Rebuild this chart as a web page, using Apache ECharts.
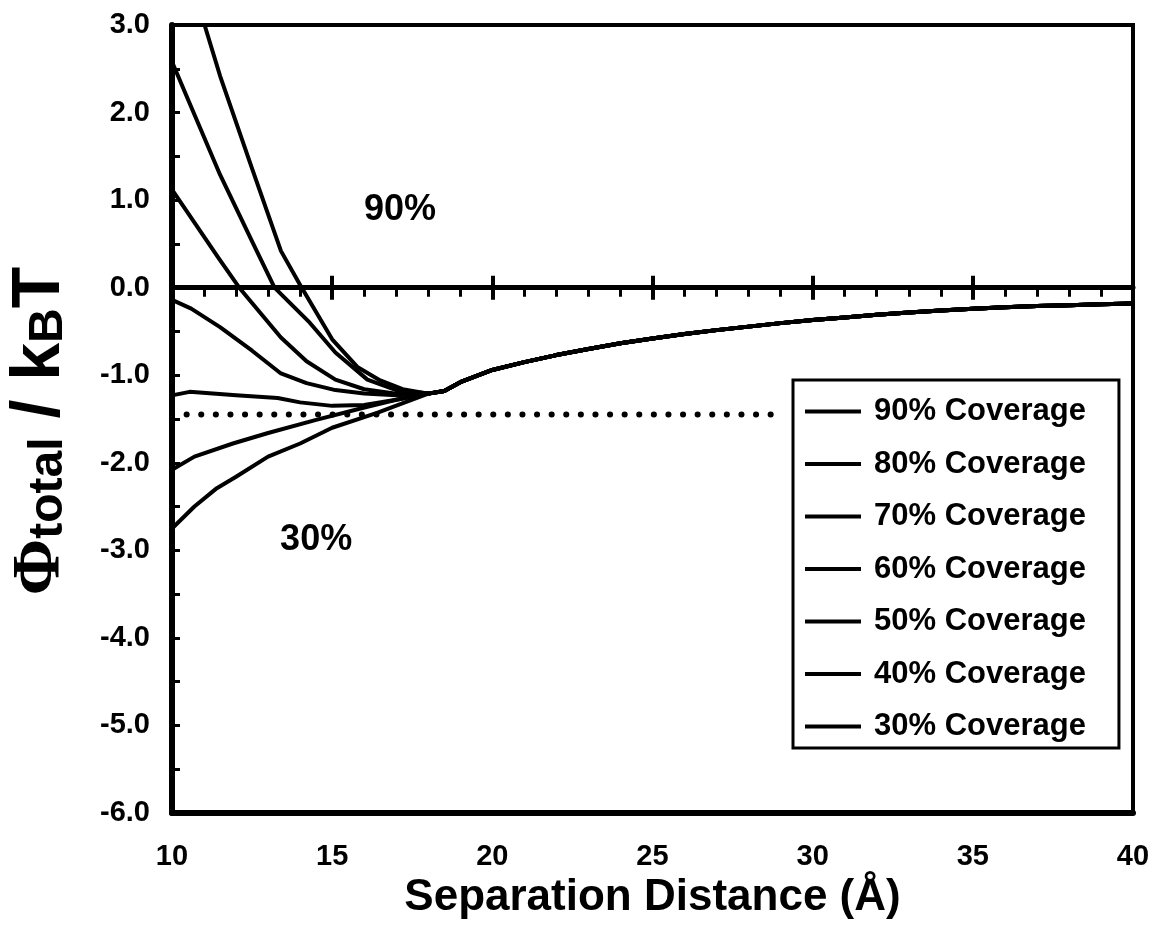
<!DOCTYPE html>
<html>
<head>
<meta charset="utf-8">
<script src="https://cdn.jsdelivr.net/npm/echarts@6/dist/echarts.min.js"></script>
<style>
  html, body { margin: 0; padding: 0; background: #fff; }
  #chart { width: 1155px; height: 937px; }
</style>
</head>
<body>
<div id="chart"></div>
<script>
// Total interaction potential vs separation distance for several surface coverages
const coverageLabels = ['90% Coverage', '80% Coverage', '70% Coverage', '60% Coverage',
                        '50% Coverage', '40% Coverage', '30% Coverage'];

// Near-field branches (separation in Å, potential in kBT), one per coverage
const x90 = [11.0, 11.5, 12.5, 13.4, 14.0, 15.0, 15.8, 16.5, 17.2];
const y90 = [3.02, 2.42, 1.36, 0.42, 0.03, -0.59, -0.91, -1.06, -1.16];
const x80 = [10.0, 10.5, 11.5, 12.5, 13.2, 14.3, 15.1, 16.1, 17.0];
const y80 = [2.58, 2.15, 1.29, 0.53, 0.0, -0.40, -0.74, -1.05, -1.17];
const x70 = [10.0, 10.5, 11.45, 12.1, 13.4, 14.2, 15.1, 16.0, 17.0];
const y70 = [1.12, 0.85, 0.34, 0.0, -0.57, -0.84, -1.05, -1.16, -1.21];
const x60 = [10.0, 10.6, 11.5, 12.5, 13.4, 14.2, 15.1, 16.0, 17.0];
const y60 = [-0.14, -0.24, -0.45, -0.72, -0.98, -1.09, -1.17, -1.21, -1.23];
const x50 = [10.0, 10.55, 12.0, 13.3, 14.0, 15.0, 16.0, 17.0];
const y50 = [-1.23, -1.19, -1.23, -1.26, -1.31, -1.35, -1.34, -1.28];
const x40 = [10.0, 10.7, 11.9, 13.0, 14.5, 16.1, 17.0];
const y40 = [-2.08, -1.93, -1.78, -1.66, -1.51, -1.36, -1.28];
const x30 = [10.0, 10.7, 11.4, 12.0, 13.0, 14.0, 15.0, 16.4];
const y30 = [-2.75, -2.50, -2.29, -2.16, -1.93, -1.78, -1.60, -1.43];

// Far-field branch shared by every coverage
const tailX = [18, 18.5, 19, 20, 21, 22, 23, 24, 25, 26, 27, 28, 29, 30,
               31, 32, 33, 34, 35, 36, 37, 38, 39, 40];
const tailY = [-1.21, -1.18, -1.08, -0.94, -0.85, -0.77, -0.70, -0.635, -0.58, -0.53, -0.485, -0.445, -0.405, -0.37,
               -0.34, -0.31, -0.285, -0.26, -0.24, -0.225, -0.21, -0.20, -0.19, -0.18];

// Reference level (dotted)
const refLevel = -1.45;
const refX = [10, 29];

// In-plot annotations, placed in data coordinates
const annotations = [
  { text: '90%', x: 17.12, y: 0.89 },
  { text: '30%', x: 14.5, y: -2.88 }
];

const xTicks = { min: 10, max: 40, interval: 5 };
const yTicks = { min: -6, max: 3, interval: 1 };

const FONT = '"Liberation Sans", Arial, Helvetica, sans-serif';
const heads = [[x90, y90], [x80, y80], [x70, y70], [x60, y60], [x50, y50], [x40, y40], [x30, y30]];

function buildCurve(xs, ys) {
  const pts = xs.map((x, i) => [x, ys[i]]);
  return pts.concat(tailX.map((x, i) => [x, tailY[i]]));
}

const chart = echarts.init(document.getElementById('chart'), null, { renderer: 'canvas' });

const curveSeries = coverageLabels.map((name, k) => ({
  name: name,
  type: 'line',
  data: buildCurve(heads[k][0], heads[k][1]),
  symbol: 'none',
  showSymbol: false,
  clip: true,
  z: 3,
  lineStyle: { color: '#000', width: 4, join: 'round' },
  itemStyle: { color: '#000' },
  emphasis: { disabled: true }
}));

const dottedSeries = {
  name: 'reference',
  type: 'line',
  data: refX.map(x => [x, refLevel]),
  symbol: 'none',
  z: 2,
  silent: true,
  lineStyle: { color: '#000', width: 6, type: [0.1, 14.5], cap: 'round' }
};

const zeroTick = { lineStyle: { color: '#000', width: 4 } };

chart.setOption({
  animation: false,
  backgroundColor: '#fff',
  grid: {
    left: 172, right: 22, top: 25, bottom: 124,
    show: true, borderColor: '#000', borderWidth: 4, backgroundColor: 'transparent'
  },
  legend: {
    data: coverageLabels,
    orient: 'vertical',
    left: 793, top: 380,
    padding: [16, 33, 6, 12],
    itemGap: 21.5,
    itemWidth: 56,
    itemHeight: 4,
    icon: 'rect',
    itemStyle: { color: '#000' },
    borderColor: '#000',
    borderWidth: 3,
    backgroundColor: '#fff',
    selectedMode: false,
    textStyle: { fontFamily: FONT, fontWeight: 'bold', fontSize: 31, color: '#000', lineHeight: 30,
                 padding: [0, 0, 0, 8] }
  },
  xAxis: [
    {
      type: 'value', min: xTicks.min, max: xTicks.max, interval: xTicks.interval,
      position: 'bottom',
      axisLine: { show: true, onZero: false, lineStyle: { color: '#000', width: 6 } },
      axisTick: { show: false },
      splitLine: { show: false },
      axisLabel: { fontFamily: FONT, fontWeight: 'bold', fontSize: 29, color: '#000', margin: 29 },
      name: 'Separation Distance (Å)',
      nameLocation: 'middle',
      nameGap: 57,
      nameTextStyle: { fontFamily: FONT, fontWeight: 'bold', fontSize: 44, color: '#000' }
    },
    {
      type: 'value', min: xTicks.min, max: xTicks.max, interval: xTicks.interval,
      position: 'bottom',
      axisLine: { show: true, onZero: true, onZeroAxisIndex: 0, lineStyle: { color: '#000', width: 5 } },
      axisTick: { show: true, length: 12, lineStyle: zeroTick.lineStyle },
      minorTick: { show: true, splitNumber: 5, length: 9, lineStyle: { color: '#000', width: 3 } },
      axisLabel: { show: false },
      splitLine: { show: false }
    },
    {
      type: 'value', min: xTicks.min, max: xTicks.max, interval: xTicks.interval,
      position: 'top',
      axisLine: { show: false, onZero: true, onZeroAxisIndex: 0 },
      axisTick: { show: true, length: 12, lineStyle: zeroTick.lineStyle },
      axisLabel: { show: false },
      splitLine: { show: false }
    }
  ],
  yAxis: {
    type: 'value', min: yTicks.min, max: yTicks.max, interval: yTicks.interval,
    position: 'left',
    axisLine: { show: true, onZero: false, lineStyle: { color: '#000', width: 6 } },
    axisTick: { show: true, inside: true, length: 8, lineStyle: { color: '#000', width: 3 } },
    minorTick: { show: true, splitNumber: 2, length: 8, lineStyle: { color: '#000', width: 3 } },
    splitLine: { show: false },
    axisLabel: {
      fontFamily: FONT, fontWeight: 'bold', fontSize: 29, color: '#000', margin: 22,
      formatter: v => v.toFixed(1)
    }
  },
  series: [dottedSeries].concat(curveSeries)
});

// Rotated y-axis title and in-plot annotations
const annoGraphics = annotations.map(a => {
  const p = chart.convertToPixel({ gridIndex: 0 }, [a.x, a.y]);
  return {
    type: 'text', x: p[0], y: p[1], z: 10,
    style: { text: a.text, fontFamily: FONT, fontWeight: 'bold', fontSize: 36, fill: '#000',
             align: 'center', verticalAlign: 'middle' }
  };
});

chart.setOption({
  graphic: [
    {
      type: 'text', x: 40, y: 431, rotation: Math.PI / 2, z: 10,
      style: {
        text: '{phi|Φ}{sub|total}{m| / k}{sub|B}{m|T}',
        align: 'center', verticalAlign: 'middle',
        rich: {
          phi: { fontFamily: '"Liberation Serif", "Times New Roman", serif', fontWeight: 'bold', fontSize: 68, lineHeight: 66, fill: '#000' },
          sub: { fontFamily: FONT, fontWeight: 'bold', fontSize: 48, lineHeight: 36, verticalAlign: 'bottom', fill: '#000' },
          m: { fontFamily: FONT, fontWeight: 'bold', fontSize: 68, lineHeight: 66, fill: '#000' }
        }
      }
    }
  ].concat(annoGraphics)
});
</script>
</body>
</html>
